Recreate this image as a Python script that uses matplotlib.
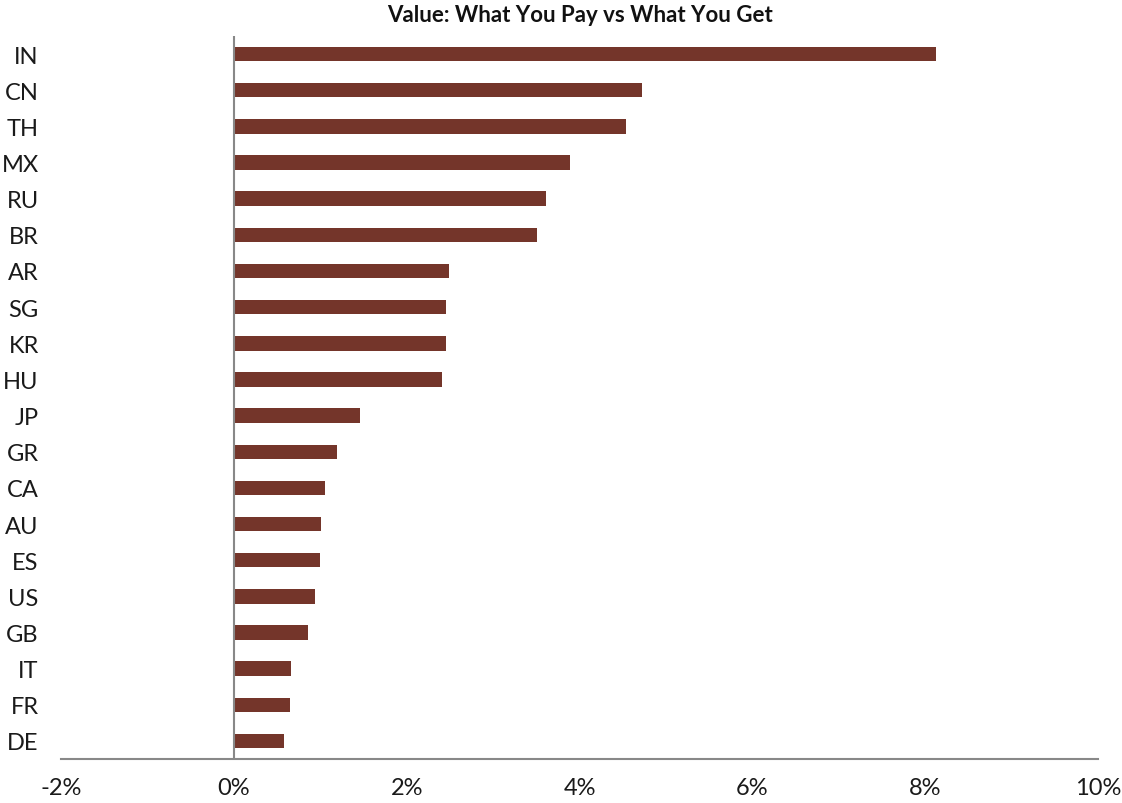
import matplotlib
matplotlib.use('Agg')
import matplotlib.pyplot as plt
from matplotlib.ticker import FuncFormatter

countries = ['IN', 'CN', 'TH', 'MX', 'RU', 'BR', 'AR', 'SG', 'KR', 'HU',
             'JP', 'GR', 'CA', 'AU', 'ES', 'US', 'GB', 'IT', 'FR', 'DE']
values = [8.12, 4.72, 4.54, 3.89, 3.61, 3.51, 2.49, 2.45, 2.45, 2.41,
          1.46, 1.19, 1.05, 1.01, 1.00, 0.94, 0.86, 0.66, 0.65, 0.58]
xticks = [-2, 0, 2, 4, 6, 8, 10]
title = 'Value: What You Pay vs What You Get'

bar_color = '#74352a'
axis_color = '#888888'

plt.rcParams['font.family'] = ['Lato', 'DejaVu Sans']

fig = plt.figure(figsize=(11.22, 8.04), dpi=100)
ax = fig.add_axes([0.0544, 0.0547, 0.9242, 0.8993])

ypos = list(range(len(countries)))
ax.barh(ypos, values, height=0.4, color=bar_color)

ax.set_ylim(len(countries) - 0.5, -0.5)
ax.set_xlim(-2, 10)
ax.set_yticks(ypos)
ax.set_yticklabels(countries)
ax.set_xticks(xticks)
ax.xaxis.set_major_formatter(FuncFormatter(lambda v, p: f'{v:.0f}%'))

ax.axvline(0, color=axis_color, lw=1.5, zorder=3)
for s in ['top', 'right', 'left']:
    ax.spines[s].set_visible(False)
ax.spines['bottom'].set_color(axis_color)
ax.spines['bottom'].set_linewidth(1.5)

ax.tick_params(axis='both', length=0, labelsize=17, labelcolor='#1a1a1a')
ax.tick_params(axis='y', pad=16)
ax.tick_params(axis='x', pad=13)

fig.text(0.5165, 0.981, title, ha='center', va='center',
         fontsize=16, fontweight='bold', color='#111111')

fig.savefig('out.png', dpi=100, facecolor='white')
